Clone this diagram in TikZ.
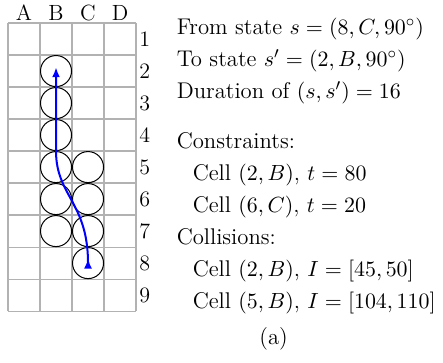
\documentclass[tikz,border=0pt]{standalone}
\usepackage{tikz}
\usetikzlibrary{arrows.meta, positioning}

\begin{document}
\begin{tikzpicture}[
    x=16pt, y=16pt,
    robot/.style={circle, draw=black, line width=0.5pt, minimum size=15.5pt, inner sep=0pt},
    collbl/.style={anchor=base, inner sep=0pt, font=\fontsize{11}{13}\selectfont},
    rowlbl/.style={anchor=west, inner sep=1.5pt, font=\fontsize{11}{13}\selectfont},
    info/.style={anchor=base west, inner sep=0pt, font=\fontsize{11.35}{16}\selectfont},
    trajline/.style={blue, line width=1pt,
                     {Latex[reversed, length=5pt, width=4pt]}-{Latex[length=5pt, width=4pt]}}]
\useasboundingbox (-0.25,-1.59) rectangle (13.59,9.72);

% map
\draw[black!30, line width=0.6pt, step=16pt] (0,0) grid (4,9);
\foreach \c [count=\i] in {A,B,C,D}
  \node[collbl] (col\c) at (\i-0.5,9.07) {\c};
\foreach \r in {1,...,9}
  \node[rowlbl] (row\r) at (4,9.5-\r) {\r};

% cells occupied by the robot
\foreach \i/\r in {2/2,2/3,2/4,2/5,2/6,2/7,3/5,3/6,3/7,3/8}
  \node[robot] (cell\i\r) at (\i-0.5,9.5-\r) {};

% motion from s to s'
\coordinate (start) at (2.5,1.33);
\coordinate (goal) at (1.5,7.62);
\draw[trajline] (start) .. controls (2.5,3.4) and (1.5,3.6) .. (1.5,5) -- (goal);

% description
\node[info] (from) at (5.26,8.64) {From state $s=(8,C,90^\circ)$};
\node[info] (to) at (5.26,7.64) {To state $s'=(2,B,90^\circ)$};
\node[info] (dur) at (5.26,6.64) {Duration of $(s,s')=16$};
\node[info] (cons) at (5.26,5.07) {Constraints:};
\node[info] (cons1) at (5.76,4.07) {Cell $(2,B)$, $t=80$};
\node[info] (cons2) at (5.76,3.07) {Cell $(6,C)$, $t=20$};
\node[info] (coll) at (5.26,2.07) {Collisions:};
\node[info] (coll1) at (5.76,1.07) {Cell $(2,B)$, $I=[45,50]$};
\node[info] (coll2) at (5.76,0.07) {Cell $(5,B)$, $I=[104,110]$};
\node[info, anchor=base] (caption) at (8.3,-1.05) {(a)};
\end{tikzpicture}
\end{document}
